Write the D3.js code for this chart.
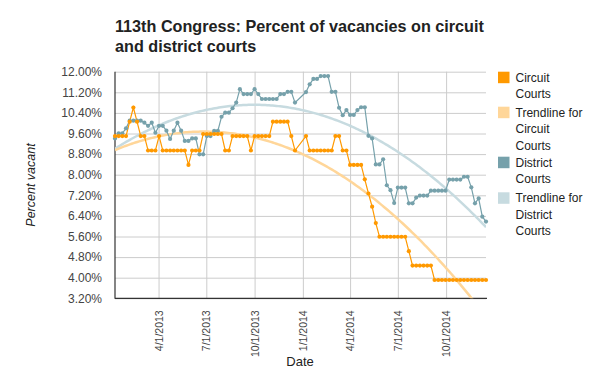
<!DOCTYPE html>
<html><head><meta charset="utf-8">
<script src="https://cdn.jsdelivr.net/npm/d3@7"></script>
<style>body{margin:0;background:#fff;}svg{font-family:Arial,"Liberation Sans",sans-serif;}</style>
</head><body><svg id="c" width="601" height="372"></svg>
<script>
const dates = [
"2013-01-08","2013-01-15","2013-01-22","2013-01-29","2013-02-05","2013-02-12","2013-02-19","2013-02-26",
"2013-03-05","2013-03-12","2013-03-19","2013-03-26","2013-04-02","2013-04-09","2013-04-16","2013-04-23","2013-04-30",
"2013-05-07","2013-05-14","2013-05-21","2013-05-28","2013-06-04","2013-06-11","2013-06-18","2013-06-25",
"2013-07-02","2013-07-09","2013-07-16","2013-07-23","2013-07-30","2013-08-06","2013-08-13","2013-08-20","2013-08-27",
"2013-09-03","2013-09-10","2013-09-17","2013-09-24","2013-10-01","2013-10-08","2013-10-15","2013-10-22","2013-10-29",
"2013-11-05","2013-11-12","2013-11-19","2013-11-26","2013-12-03","2013-12-10","2013-12-17",
"2014-01-07","2014-01-14","2014-01-21","2014-01-28","2014-02-04","2014-02-11","2014-02-18","2014-02-25",
"2014-03-04","2014-03-11","2014-03-18","2014-03-25","2014-04-01","2014-04-08","2014-04-15","2014-04-22","2014-04-29",
"2014-05-06","2014-05-13","2014-05-20","2014-05-27","2014-06-03","2014-06-10","2014-06-17","2014-06-24",
"2014-07-01","2014-07-08","2014-07-15","2014-07-22","2014-07-29","2014-08-05","2014-08-12","2014-08-19","2014-08-26",
"2014-09-02","2014-09-09","2014-09-16","2014-09-23","2014-09-30","2014-10-07","2014-10-14","2014-10-21","2014-10-28",
"2014-11-04","2014-11-11","2014-11-18","2014-11-25","2014-12-02","2014-12-09","2014-12-16"];

const circuit = [
9.50,9.50,9.50,9.50,10.06,10.61,10.06,9.50,
9.50,8.94,8.94,8.94,9.50,8.94,8.94,8.94,8.94,
8.94,8.94,8.94,8.38,8.94,8.94,8.94,9.58,
9.58,9.58,9.58,9.58,9.58,8.94,8.94,9.50,9.50,
9.50,9.50,9.50,8.94,9.50,9.50,9.50,9.50,9.50,
10.06,10.06,10.06,10.06,10.06,9.50,8.94,
9.50,8.94,8.94,8.94,8.94,8.94,8.94,8.94,
9.50,9.50,8.94,8.94,8.38,8.38,8.38,8.38,7.82,
7.27,6.76,6.12,5.59,5.59,5.59,5.59,5.59,
5.59,5.59,5.59,5.03,4.47,4.47,4.47,4.47,4.47,
4.47,3.91,3.91,3.91,3.91,3.91,3.91,3.91,3.91,
3.91,3.91,3.91,3.91,3.91,3.91,3.91];

const district = [
9.41,9.61,9.61,9.80,10.10,10.10,10.10,10.10,
10.02,9.90,10.02,9.63,9.90,9.90,9.71,9.39,9.71,
10.02,9.71,9.31,9.31,9.41,9.41,8.79,8.79,
9.50,9.50,9.70,9.70,10.25,10.41,10.41,10.58,10.80,
11.32,11.13,11.13,11.13,11.32,11.13,10.94,10.94,10.94,
10.94,10.94,11.13,11.13,11.22,11.22,10.80,
11.21,11.51,11.72,11.72,11.83,11.83,11.83,11.22,
11.22,10.60,10.31,10.51,10.32,10.32,10.51,10.62,10.62,
9.51,9.41,8.40,8.40,8.60,7.59,7.40,6.90,
7.50,7.50,7.50,6.89,6.89,7.11,7.19,7.19,7.19,
7.38,7.38,7.38,7.38,7.38,7.81,7.81,7.81,7.81,
7.92,7.92,7.51,6.89,7.08,6.37,6.18];

const yTicks = [3.2,4.0,4.8,5.6,6.4,7.2,8.0,8.8,9.6,10.4,11.2,12.0];
const xTicks = ["2013-04-01","2013-07-01","2013-10-01","2014-01-01","2014-04-01","2014-07-01","2014-10-01"];
const legendLabels = [["Circuit","Courts"],["Trendline for","Circuit","Courts"],["District","Courts"],["Trendline for","District","Courts"]];
const titleLines = ["113th Congress: Percent of vacancies on circuit","and district courts"];

const C_CIR="#ff9900", C_CIR_T="#ffd699", C_DIS="#76a1ab", C_DIS_T="#c7dbe0";

const parse = d3.utcParse("%Y-%m-%d");
const dd = dates.map(parse);
const L=115, R=486, T=71.7, B=298.3;
const x = d3.scaleUtc().domain([dd[0], dd[dd.length-1]]).range([L,R]);
const y = d3.scaleLinear().domain([3.2,12]).range([B,T]);
const svg = d3.select("#c");

svg.append("defs").append("clipPath").attr("id","clip").append("rect")
  .attr("x",L).attr("y",T).attr("width",R-L).attr("height",B-T);

// grid + y labels
const gy = svg.append("g").attr("transform",`translate(${L},0)`)
  .call(d3.axisLeft(y).tickValues(yTicks).tickSize(-(R-L)).tickFormat(d=>d.toFixed(2)+"%"));
gy.select(".domain").remove();
gy.selectAll(".tick line").attr("stroke","#cccccc");
gy.selectAll(".tick text").attr("x",-13).attr("fill","#444").style("font-size","12px").style("font-family","Arial,'Liberation Sans',sans-serif");

// grid + x labels
const gx = svg.append("g").attr("transform",`translate(0,${B})`)
  .call(d3.axisBottom(x).tickValues(xTicks.map(parse)).tickSize(-(B-T)).tickFormat(d3.utcFormat("%-m/%-d/%Y")));
gx.select(".domain").remove();
gx.selectAll(".tick line").attr("stroke","#cccccc");
gx.selectAll(".tick text").attr("transform","rotate(-90)").attr("text-anchor","end")
  .attr("x",-12).attr("y",0).attr("dy","0.35em").attr("fill","#444")
  .style("font-size","10.5px").style("font-family","Arial,'Liberation Sans',sans-serif");

// axis lines
svg.append("line").attr("x1",L).attr("x2",L).attr("y1",T).attr("y2",B+0.5).attr("stroke","#333").attr("stroke-width",1.2);
svg.append("line").attr("x1",L).attr("x2",R+1).attr("y1",B).attr("y2",B).attr("stroke","#333").attr("stroke-width",1.2);

// quadratic (polynomial degree 2) trendline by least squares
function quadFit(xs, ys){
  const n=xs.length; const m=d3.mean(xs), s=d3.deviation(xs);
  const u=xs.map(v=>(v-m)/s);
  let S=[0,0,0,0,0], Ty=[0,0,0];
  for(let i=0;i<n;i++){let p=1;for(let k=0;k<5;k++){S[k]+=p;if(k<3)Ty[k]+=p*ys[i];p*=u[i];}}
  const A=[[S[0],S[1],S[2],Ty[0]],[S[1],S[2],S[3],Ty[1]],[S[2],S[3],S[4],Ty[2]]];
  for(let i=0;i<3;i++){for(let j=i+1;j<3;j++){const f=A[j][i]/A[i][i];for(let k=i;k<4;k++)A[j][k]-=f*A[i][k];}}
  const c=[0,0,0];
  for(let i=2;i>=0;i--){let v=A[i][3];for(let k=i+1;k<3;k++)v-=A[i][k]*c[k];c[i]=v/A[i][i];}
  return t=>{const w=(t-m)/s;return c[0]+c[1]*w+c[2]*w*w;};
}
const tms = dd.map(d=>+d);
const fC = quadFit(tms,circuit), fD = quadFit(tms,district);
const tSamples = d3.range(0,201).map(i=>tms[0]+(tms[tms.length-1]-tms[0])*i/200);
const plot = svg.append("g").attr("clip-path","url(#clip)");
plot.append("path").datum(tSamples).attr("d",d3.line().x(t=>x(new Date(t))).y(t=>y(fD(t))))
  .attr("fill","none").attr("stroke",C_DIS_T).attr("stroke-width",2.5);
plot.append("path").datum(tSamples).attr("d",d3.line().x(t=>x(new Date(t))).y(t=>y(fC(t))))
  .attr("fill","none").attr("stroke",C_CIR_T).attr("stroke-width",2.5);

function series(vals,color){
  const pts = vals.map((v,i)=>[dd[i],v]);
  plot.append("path").datum(pts).attr("d",d3.line().x(p=>x(p[0])).y(p=>y(p[1])))
    .attr("fill","none").attr("stroke",color).attr("stroke-width",1.2);
  svg.append("g").selectAll("circle").data(pts).join("circle")
    .attr("cx",p=>x(p[0])).attr("cy",p=>y(p[1])).attr("r",2.1).attr("fill",color);
}
series(district,C_DIS);
series(circuit,C_CIR);

// title
svg.append("g").selectAll("text").data(titleLines).join("text")
  .attr("x",115).attr("y",(d,i)=>31.5+i*20).text(d=>d)
  .attr("fill","#222").style("font-size","16.2px").style("font-weight","bold");

// axis titles
svg.append("text").attr("x",300).attr("y",366).attr("text-anchor","middle").text("Date")
  .attr("fill","#222").style("font-size","13px");
svg.append("text").attr("transform","translate(35,185) rotate(-90)").attr("text-anchor","middle")
  .text("Percent vacant").attr("fill","#222").style("font-size","12.5px").style("font-style","italic");

// legend
const legColors=[C_CIR,C_CIR_T,C_DIS,C_DIS_T];
const legTop=[71.7,106.7,156.7,192.3];
const lg = svg.append("g");
legendLabels.forEach((lines,k)=>{
  lg.append("rect").attr("x",498).attr("y",legTop[k]).attr("width",11.5).attr("height",11.5).attr("fill",legColors[k]);
  lines.forEach((t,j)=>{
    lg.append("text").attr("x",515.5).attr("y",legTop[k]+10+j*16.5).text(t)
      .attr("fill","#222").style("font-size","12px");
  });
});
</script></body></html>
